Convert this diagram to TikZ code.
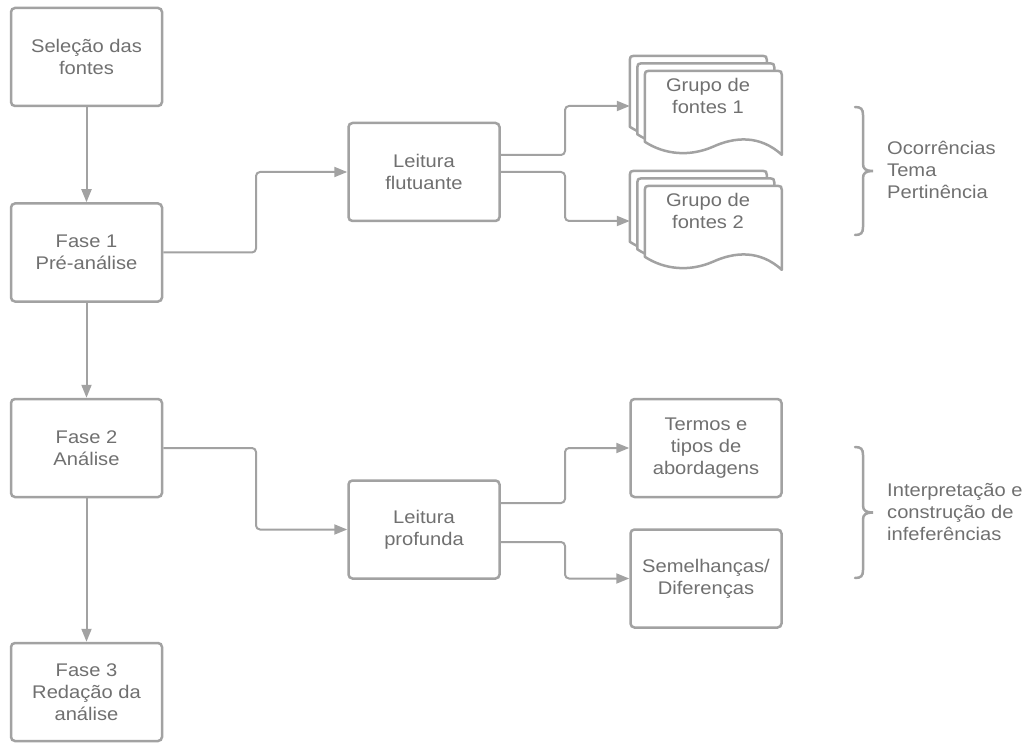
\documentclass[tikz,border=0pt]{standalone}
\usepackage{fontspec}
\setmainfont[FakeStretch=1.1]{Liberation Sans}
\usetikzlibrary{arrows.meta}
\definecolor{linegray}{RGB}{162,162,162}
\definecolor{textgray}{RGB}{112,112,112}
\tikzset{
  box/.style={draw=linegray, line width=2.5pt, rounded corners=4pt, minimum width=151pt, minimum height=98pt, inner sep=0pt, fill=white, text=textgray, align=center, font=\fontsize{18.3}{21.7}\selectfont},
  lbl/.style={text=textgray, inner sep=0pt, font=\fontsize{18.3}{21.7}\selectfont},
  conn/.style={draw=linegray, line width=2pt, rounded corners=4pt, -{Triangle[length=13pt,width=10pt]}},
  brc/.style={draw=linegray, line width=2.5pt, line cap=round},
  docpage/.style={draw=linegray, line width=2.5pt, fill=white, line join=round},
  docstack/.pic={
    \foreach \d in {0,7.5,15}{
      \begin{scope}[shift={(\d,\d)}]
        \path[docpage] (0,71) -- (0,4) .. controls (0,1) and (1,0) .. (4,0) -- (133,0) .. controls (136,0) and (137,1) .. (137,4) -- (137,84) .. controls (115,64) and (90,66) .. (68,76) .. controls (45,86) and (20,84) .. (0,71) -- cycle;
      \end{scope}
    }
  }
}
\begin{document}
\begin{tikzpicture}[x=1pt,y=-1pt]
\useasboundingbox (0,0) rectangle (1030,743);

% left column
\node[box] (A) at (86.5,57) {Seleção das\\fontes};
\node[box] (B) at (86.5,252.5) {Fase 1\\Pré-análise};
\node[box] (C) at (86.5,448) {Fase 2\\Análise};
\node[box] (D) at (86.5,692) {Fase 3\\Redação da\\análise};

% middle
\node[box] (LF) at (424,172) {Leitura\\flutuante};
\node[box] (LP) at (424,529.5) {Leitura\\profunda};

% right
\node[inner sep=0pt, minimum width=152pt, minimum height=100pt] (G1) at (706,106) {};
\pic at (G1.north west) {docstack};
\node[lbl, align=center] (G1t) at (708,96) {Grupo de\\fontes 1};

\node[inner sep=0pt, minimum width=152pt, minimum height=100pt] (G2) at (706,221) {};
\pic at (G2.north west) {docstack};
\node[lbl, align=center] (G2t) at (708,211) {Grupo de\\fontes 2};

\node[box] (T) at (706,448) {Termos e\\tipos de\\abordagens};
\node[box] (S) at (706,578.5) {Semelhanças/\\Diferenças};

% connectors
\coordinate (m1) at (256,0);
\coordinate (m2) at (565,0);
\coordinate (lfu) at ([yshift=17pt]LF.east);
\coordinate (lpu) at ([yshift=26.5pt]LP.east);
\coordinate (lpd) at ([yshift=-12.5pt]LP.east);

\draw[conn] (A.south) -- (B.north);
\draw[conn] (B.south) -- (C.north);
\draw[conn] (C.south) -- (D.north);

\draw[conn] (B.east) -- (B.east -| m1) -- (LF.west -| m1) -- (LF.west);
\draw[conn] (C.east) -- (C.east -| m1) -- (LP.west -| m1) -- (LP.west);

\draw[conn] (lfu) -- (lfu -| m2) -- (G1.west -| m2) -- (G1.west);
\draw[conn] (LF.east) -- (LF.east -| m2) -- (G2.west -| m2) -- (G2.west);

\draw[conn] (lpu) -- (lpu -| m2) -- (T.west -| m2) -- (T.west);
\draw[conn] (lpd) -- (lpd -| m2) -- (S.west -| m2) -- (S.west);

% braces
\draw[brc] (855,107) .. controls (861,107) and (863,109) .. (863,115) -- (863,164) .. controls (863,169) and (866,171) .. (873,171) .. controls (866,171) and (863,173) .. (863,178) -- (863,227) .. controls (863,233) and (861,235) .. (855,235);
\draw[brc] (855,447) .. controls (861,447) and (863,449) .. (863,455) -- (863,505.5) .. controls (863,510.5) and (866,512.5) .. (873,512.5) .. controls (866,512.5) and (863,514.5) .. (863,519.5) -- (863,570) .. controls (863,576) and (861,578) .. (855,578);

\node[lbl, anchor=west, align=left] (L1) at (887,170) {Ocorrências\\Tema\\Pertinência};
\node[lbl, anchor=west, align=left] (L2) at (887,512) {Interpretação e\\construção de\\infeferências};
\end{tikzpicture}
\end{document}
